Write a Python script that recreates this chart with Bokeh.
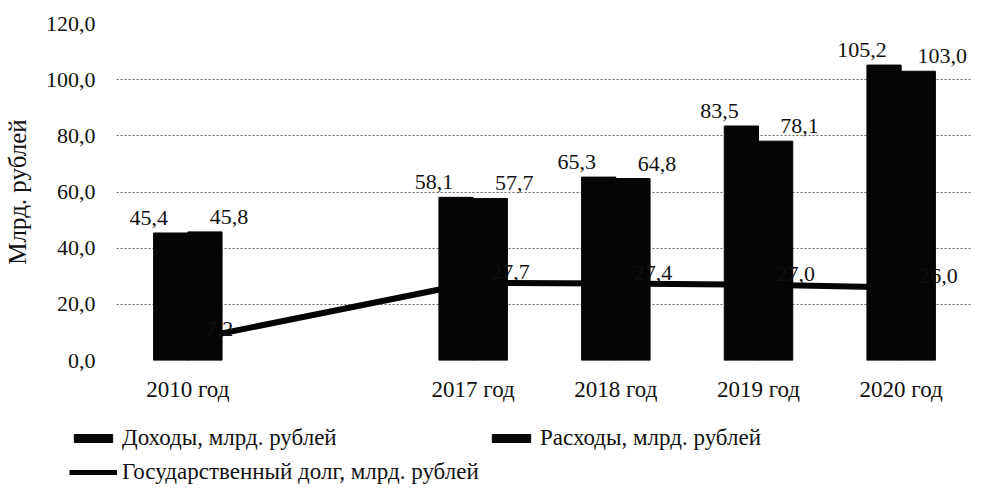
from bokeh.plotting import figure
from bokeh.layouts import column
from bokeh.models import ColumnDataSource, FactorRange, Legend, LegendItem, FixedTicker, Range1d
from bokeh.transform import dodge
from bokeh.core.properties import value
from bokeh.embed import file_html
from bokeh.resources import INLINE

# ---- data ----
years = ["2010 год", "2017 год", "2018 год", "2019 год", "2020 год"]
axis_factors = ["2010 год", " ", "2017 год", "2018 год", "2019 год", "2020 год"]
income = [45.4, 58.1, 65.3, 83.5, 105.2]
expenses = [45.8, 57.7, 64.8, 78.1, 103.0]
debt = [7.2, 27.7, 27.4, 27.0, 26.0]
y_ticks = [0, 20, 40, 60, 80, 100, 120]
series_names = ["Доходы, млрд. рублей", "Расходы, млрд. рублей",
                "Государственный долг, млрд. рублей"]
y_title = "Млрд. рублей"


def fmt(v):
    return f"{v:.1f}".replace(".", ",")


FONT = "Liberation Serif"
LFS = "22px"
INK = "#111111"
BAR = "#050505"

src = ColumnDataSource(dict(
    years=years, income=income, expenses=expenses, debt=debt,
    income_lbl=[fmt(v) for v in income],
    expenses_lbl=[fmt(v) for v in expenses],
    debt_lbl=[fmt(v) for v in debt],
))

p = figure(x_range=FactorRange(*axis_factors, range_padding=0),
           y_range=Range1d(0, 120),
           width=972, height=404, output_backend="svg", toolbar_location=None,
           min_border_left=112, min_border_right=0, min_border_top=23,
           min_border_bottom=10)
p.frame_align = False
p.outline_line_color = None
p.background_fill_color = "white"
p.border_fill_color = "white"

bw = 0.24
r_inc = p.vbar(x=dodge("years", -bw / 2, range=p.x_range), top="income", width=bw,
               source=src, fill_color=BAR, line_color=BAR)
r_exp = p.vbar(x=dodge("years", bw / 2, range=p.x_range), top="expenses", width=bw,
               source=src, fill_color=BAR, line_color=BAR)
r_debt = p.line(x="years", y="debt", source=src, line_color=BAR, line_width=6)

# labels
p.text(x=dodge("years", -bw / 2, range=p.x_range), y="income", text="income_lbl",
       source=src, x_offset=-22, y_offset=-8, text_align="center",
       text_baseline="bottom", text_font=value(FONT), text_font_size=LFS,
       text_color=INK)
p.text(x=dodge("years", bw / 2, range=p.x_range), y="expenses", text="expenses_lbl",
       source=src, x_offset=24, y_offset=-8, text_align="center",
       text_baseline="bottom", text_font=value(FONT), text_font_size=LFS,
       text_color=INK)
p.text(x="years", y="debt", text="debt_lbl", source=src, x_offset=18, y_offset=-11,
       text_align="left", text_baseline="middle", text_font=value(FONT),
       text_font_size=LFS, text_color=INK)

# axes
p.yaxis.ticker = FixedTicker(ticks=y_ticks)
p.yaxis.major_label_overrides = {t: fmt(t) for t in y_ticks}
for ax in (p.xaxis[0], p.yaxis[0]):
    ax.axis_line_color = None
    ax.major_tick_line_color = None
    ax.minor_tick_line_color = None
    ax.major_label_text_font = FONT
    ax.major_label_text_color = INK
p.yaxis.major_label_text_font_size = "22px"
p.xaxis.major_label_text_font_size = "23px"
p.yaxis.major_label_standoff = 15
p.xaxis.major_label_standoff = 10
p.yaxis.axis_label = y_title
p.yaxis.axis_label_text_font = FONT
p.yaxis.axis_label_text_font_size = "25px"
p.yaxis.axis_label_text_font_style = "normal"
p.yaxis.axis_label_standoff = 12
p.yaxis.axis_label_text_color = INK

p.xgrid.grid_line_color = None
p.ygrid.grid_line_color = "#666666"
p.ygrid.grid_line_dash = "2 2"
p.ygrid.grid_line_width = 1

# ---- legend strip (same styles as the chart's renderers) ----
lg = figure(width=972, height=81, output_backend="svg", toolbar_location=None,
            x_axis_location=None, y_axis_location=None, min_border=0,
            x_range=Range1d(0, 1), y_range=Range1d(0, 1))
lg.frame_align = False
lg.outline_line_color = None
lg.grid.grid_line_color = None
offscreen = ColumnDataSource(dict(x=[-10], y=[-10]))
l_inc = lg.vbar(x="x", top="y", width=0.1, source=offscreen, fill_color=BAR, line_color=BAR)
l_exp = lg.vbar(x="x", top="y", width=0.1, source=offscreen, fill_color=BAR, line_color=BAR)
l_debt = lg.line(x="x", y="y", source=offscreen, line_color=BAR, line_width=5)

legend = Legend(items=[
    LegendItem(label=series_names[0], renderers=[l_inc]),
    LegendItem(label=series_names[1], renderers=[l_exp]),
    LegendItem(label=series_names[2], renderers=[l_debt]),
], orientation="horizontal", ncols=2, location=(69, 0),
    glyph_width=48, glyph_height=10, label_standoff=5, spacing=8,
    padding=0, margin=0, border_line_alpha=0, background_fill_alpha=0,
    label_text_font=FONT, label_text_font_size="23px", label_text_color=INK,
    label_height=24, label_width=357)
lg.add_layout(legend)

open("out.html", "w").write(file_html(column(p, lg, spacing=0), INLINE))
